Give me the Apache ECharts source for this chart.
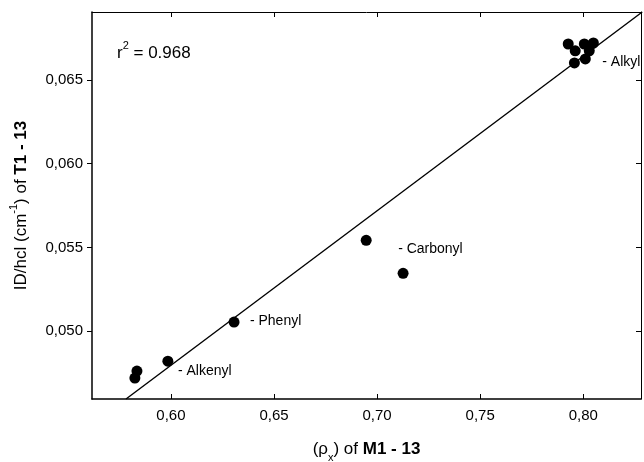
<!DOCTYPE html>
<html>
<head>
<meta charset="utf-8">
<script src="https://cdn.jsdelivr.net/npm/echarts@6/dist/echarts.min.js"></script>
<style>
  html, body { margin: 0; padding: 0; background: #fff; }
  #main { width: 644px; height: 462px; }
</style>
</head>
<body>
<div id="main"></div>
<script>
  // points: x = (rho_x) of M1-13, y = ID/hcl of T1-13
  var xVals = [0.5835, 0.5825, 0.5985, 0.6306, 0.6947, 0.7126,
               0.7927, 0.7961, 0.8005, 0.8049, 0.8010, 0.7957, 0.8029];
  var yVals = [0.04762, 0.0472, 0.04821, 0.05054, 0.05542, 0.05345,
               0.06714, 0.06673, 0.06714, 0.0672, 0.06625, 0.06601, 0.06673];

  // regression line end points
  var fitX = [0.5782, 0.8286];
  var fitY = [0.04595, 0.06905];

  // group labels
  var groupNames = ['Alkyl', 'Carbonyl', 'Phenyl', 'Alkenyl'];
  var groupX = [0.8092, 0.7102, 0.6383, 0.6034];
  var groupY = [0.06607, 0.05488, 0.0506, 0.04762];

  var xTicks = [0.60, 0.65, 0.70, 0.75, 0.80];
  var yTicks = [0.050, 0.055, 0.060, 0.065];
  var xMin = 0.5617, xMax = 0.828;
  var yMin = 0.04595, yMax = 0.06905;

  var font = 'Liberation Sans, Arial, Helvetica, sans-serif';

  let myChart = echarts.init(document.getElementById('main'));

  let points = xVals.map(function (x, i) { return [x, yVals[i]]; });
  let fit = fitX.map(function (x, i) { return [x, fitY[i]]; });
  let groups = groupNames.map(function (n, i) { return { name: n, value: [groupX[i], groupY[i]] }; });

  let option = {
    backgroundColor: '#fff',
    animation: false,
    textStyle: { fontFamily: font, color: '#000' },
    grid: { left: 92, top: 12, right: 3, bottom: 63, containLabel: false, outerBoundsMode: 'none' },
    graphic: [{
      type: 'text',
      left: 117, top: 40,
      style: {
        text: '{a|r}{s|2}{a| = 0.968}',
        rich: {
          a: { fontSize: 17, fontFamily: font, fill: '#000', lineHeight: 22, verticalAlign: 'bottom' },
          s: { fontSize: 11, fontFamily: font, fill: '#000', lineHeight: 22, verticalAlign: 'top' }
        }
      }
    }],
    xAxis: [{
      type: 'value', position: 'bottom', min: xMin, max: xMax,
      splitLine: { show: false },
      axisLine: { lineStyle: { color: '#000', width: 1.5 } },
      axisTick: { inside: true, length: 5, customValues: xTicks, lineStyle: { color: '#000' } },
      axisLabel: {
        customValues: xTicks, fontSize: 15, color: '#000', margin: 9, fontFamily: font,
        formatter: function (v) { return v.toFixed(2).replace('.', ','); }
      },
      name: '{n|(ρ}{sub|x}{n|) of }{b|M1 - 13}',
      nameLocation: 'middle', nameGap: 42,
      nameTextStyle: {
        rich: {
          n: { fontSize: 17, fontFamily: font, color: '#000', lineHeight: 22, verticalAlign: 'top' },
          sub: { fontSize: 11, fontFamily: font, color: '#000', lineHeight: 22, verticalAlign: 'bottom' },
          b: { fontSize: 17, fontFamily: font, color: '#000', fontWeight: 'bold', lineHeight: 22, verticalAlign: 'top' }
        }
      }
    }, {
      type: 'value', position: 'top', min: xMin, max: xMax,
      splitLine: { show: false },
      axisLine: { lineStyle: { color: '#000', width: 1 } },
      axisTick: { inside: true, length: 5, customValues: xTicks, lineStyle: { color: '#000' } },
      axisLabel: { show: false }
    }],
    yAxis: [{
      type: 'value', position: 'left', min: yMin, max: yMax,
      splitLine: { show: false },
      axisLine: { lineStyle: { color: '#000', width: 1.5 } },
      axisTick: { inside: false, length: 5, customValues: yTicks, lineStyle: { color: '#000' } },
      axisLabel: {
        customValues: yTicks, fontSize: 15, color: '#000', margin: 9, fontFamily: font,
        formatter: function (v) { return v.toFixed(3).replace('.', ','); }
      },
      name: '{n|ID/hcl (cm}{sup|-1}{n|) of }{b|T1 - 13}',
      nameLocation: 'middle', nameGap: 62, nameRotate: 90,
      nameTextStyle: {
        rich: {
          n: { fontSize: 17, fontFamily: font, color: '#000', lineHeight: 22, verticalAlign: 'bottom' },
          sup: { fontSize: 11, fontFamily: font, color: '#000', lineHeight: 22, verticalAlign: 'top' },
          b: { fontSize: 17, fontFamily: font, color: '#000', fontWeight: 'bold', lineHeight: 22, verticalAlign: 'bottom' }
        }
      }
    }, {
      type: 'value', position: 'right', min: yMin, max: yMax,
      splitLine: { show: false },
      axisLine: { lineStyle: { color: '#000', width: 1 } },
      axisTick: { inside: true, length: 5, customValues: yTicks, lineStyle: { color: '#000' } },
      axisLabel: { show: false }
    }],
    series: [{
      type: 'line',
      data: fit,
      symbol: 'none',
      lineStyle: { color: '#000', width: 1.4 },
      z: 2
    }, {
      type: 'scatter',
      data: points,
      symbolSize: 11,
      itemStyle: { color: '#000', opacity: 1 },
      z: 3
    }, {
      type: 'scatter',
      data: groups,
      symbolSize: 0,
      itemStyle: { opacity: 1 },
      label: {
        show: true, position: 'right', distance: 0,
        fontSize: 14, color: '#000', fontFamily: font,
        formatter: function (p) { return '- ' + p.name; }
      },
      z: 4
    }]
  };
  myChart.setOption(option);
</script>
</body>
</html>
